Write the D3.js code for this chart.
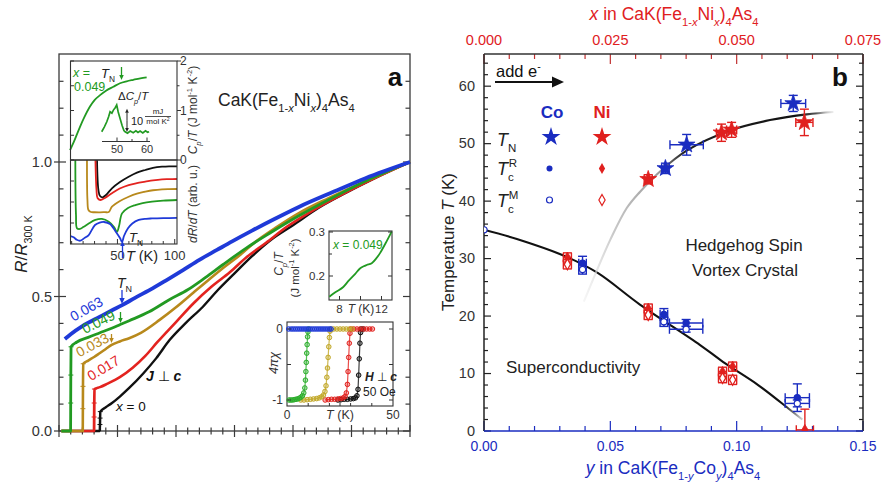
<!DOCTYPE html>
<html>
<head>
<meta charset="utf-8">
<script src="https://cdn.jsdelivr.net/npm/d3@7"></script>
<style>
  body { margin: 0; background: #fff; }
  svg { display: block; }
  text { font-family: "Liberation Sans", Arial, Helvetica, sans-serif; }
</style>
</head>
<body>
<svg id="fig" width="884" height="484"></svg>
<script>
// ---------------- Panel a: R/R300K vs T for CaK(Fe1-xNix)4As4 ----------------
const compLabels = ["0", "0.017", "0.033", "0.049", "0.063"];
const rX0 = [[2,0],[34.8,0],[35.0,0.024],[35.1,0.048],[35.3,0.072],[40,0.088],[45,0.103],[52,0.128],[60,0.16],[72,0.214],[83,0.27],[94.5,0.338],[108,0.40],[123,0.462],[136,0.525],[150,0.586],[165,0.65],[181,0.71],[200,0.765],[222,0.83],[245,0.885],[270,0.94],[300,1.0]];
const rX017 = [[2,0],[29.9,0],[30.0,0.052],[30.1,0.104],[30.3,0.156],[35,0.163],[41,0.175],[52,0.20],[63,0.235],[74,0.28],[84,0.33],[100,0.405],[115,0.475],[130,0.535],[146,0.59],[160,0.645],[177,0.70],[195,0.76],[215,0.815],[240,0.875],[265,0.93],[300,1.0]];
const rX033 = [[2,0],[20.3,0],[20.4,0.083],[20.5,0.166],[20.7,0.25],[25,0.262],[30,0.275],[35,0.29],[40,0.305],[45,0.32],[52,0.333],[60,0.345],[70,0.365],[86,0.413],[100,0.46],[115,0.515],[126,0.555],[140,0.605],[155,0.655],[167,0.70],[185,0.755],[205,0.81],[230,0.865],[260,0.925],[300,1.0]];
const rX049 = [[2,0],[9.9,0],[10.0,0.104],[10.1,0.208],[10.3,0.313],[15,0.33],[25,0.348],[35,0.365],[45,0.382],[52,0.395],[60,0.41],[77,0.443],[95,0.49],[110,0.525],[125,0.57],[140,0.618],[160,0.68],[180,0.735],[205,0.80],[235,0.87],[265,0.935],[300,1.0]];
const rX063 = [[5,0.342],[10,0.36],[20,0.39],[35,0.425],[45,0.448],[54,0.468],[65,0.495],[80,0.53],[92,0.561],[106,0.598],[120,0.636],[135,0.673],[148,0.705],[165,0.745],[185,0.79],[205,0.833],[235,0.89],[262,0.94],[300,1.0]];

// inset: specific heat of x = 0.049 (C_p/T, J mol^-1 K^-2)
const cpT = [[8.6,0.20],[12,0.37],[17.3,0.67],[21,0.86],[26,1.08],[30,1.21],[34.8,1.31],[40,1.40],[46.4,1.48],[52.2,1.55],[58,1.59],[63.8,1.62],[70,1.65],[75.5,1.67]];
// inset: Delta C_p/T anomaly (mJ mol^-1 K^-2)
const dCp = [[44.9,0.1],[45.8,2.2],[46.6,4.4],[47.2,6.5],[47.7,8.7],[48.3,8.1],[48.8,9.4],[49.4,10.4],[49.9,11.6],[50.4,8.6],[51,5.9],[51.7,2.8],[52.3,0.6],[52.7,0.1],[53.5,-0.5],[54.4,0.4],[55.4,-0.3],[56.3,0.5],[57,-0.2],[57.7,0.4],[58.6,-0.4],[59.5,0.5],[60.2,-0.1],[60.7,0.1]];
// inset: dR/dT (arb. units)
const dR0 = [[32.1,1.06],[33.4,0.64],[34.8,0.571],[37.1,0.556],[40,0.583],[45.2,0.663],[52.2,0.738],[59.8,0.801],[67,0.85],[74.3,0.881],[81,0.905],[88.9,0.92],[95,0.925],[102,0.923]];
const dR017 = [[30.7,1.06],[31.7,0.643],[32.6,0.548],[35,0.524],[39.1,0.548],[45.2,0.604],[52,0.66],[59.8,0.702],[67,0.725],[74.3,0.742],[81,0.758],[88.9,0.77],[95,0.772],[102,0.774]];
const dR033 = [[23.4,1.06],[23.8,0.524],[24.7,0.405],[26.9,0.381],[30,0.378],[34.8,0.377],[39,0.379],[42.4,0.381],[45.2,0.444],[52.2,0.512],[59.8,0.563],[67,0.6],[74.3,0.623],[81,0.64],[88.9,0.651],[95,0.654],[102,0.655]];
const dR049 = [[13.2,1.06],[13.8,0.345],[14.7,0.187],[17.3,0.179],[20.5,0.205],[24.3,0.238],[30.7,0.286],[36.5,0.298],[42.4,0.265],[47,0.202],[49.6,0.146],[51.4,0.214],[54,0.365],[59.2,0.429],[65.6,0.464],[72,0.487],[80.2,0.504],[90,0.516],[102,0.524]];
const dR063 = [[9,0.095],[11.8,0.08],[14.5,0.05],[17.6,0.039],[21,0.07],[24.9,0.107],[30.4,0.226],[34.5,0.255],[38.3,0.262],[43.5,0.238],[48.7,0.143],[52.2,0.071],[54,0.024],[55.7,0.095],[59.2,0.187],[63,0.245],[68.6,0.286],[75,0.3],[80.2,0.304],[90,0.308],[102,0.31]];
// inset: low-temperature C_p/T of x = 0.049
const cpLow = [[7.03,0.153],[7.6,0.163],[8.36,0.175],[8.9,0.19],[9.5,0.205],[9.95,0.217],[10.3,0.222],[10.59,0.225],[11.07,0.229],[11.5,0.24],[11.86,0.252],[12.4,0.275],[12.97,0.301]];
// inset: 4 pi chi (H perp c, 50 Oe)
const chi063 = [[0.8,0],[2,0],[3,0],[4,0],[5,0],[6,0],[7,0],[8,0],[9,0],[10,0],[11,0],[12,0],[13,0],[14,0],[15,0],[16,0],[17,0],[18,0],[19,0],[20,0],[20.8,0]];
const chi049 = [[1,-1],[1.8,-1],[2.6,-1],[3.4,-0.995],[4.2,-0.99],[5,-0.985],[5.8,-0.975],[6.6,-0.96],[7.3,-0.94],[7.9,-0.9],[8.4,-0.83],[8.7,-0.72],[8.9,-0.6],[9.1,-0.47],[9.3,-0.34],[9.5,-0.22],[9.7,-0.11],[9.9,-0.04],[10.2,0]];
const chi033 = [[6.5,-1],[8,-1],[9.5,-0.995],[11,-0.99],[12.5,-0.985],[14,-0.98],[15.2,-0.97],[16.3,-0.955],[17.2,-0.93],[17.9,-0.88],[18.4,-0.8],[18.8,-0.68],[19.1,-0.55],[19.4,-0.4],[19.7,-0.25],[20,-0.12],[20.3,-0.03],[20.7,0],[22,0],[23.5,0],[25,0],[26.5,0],[28,0],[29.5,0],[30.8,0]];
const chi017 = [[18,-1],[19.5,-0.995],[21,-0.99],[22.5,-0.99],[24,-0.985],[25.3,-0.98],[26.5,-0.97],[27.4,-0.95],[28,-0.9],[28.5,-0.78],[28.8,-0.6],[29.1,-0.4],[29.4,-0.2],[29.7,-0.06],[30.1,0],[31.5,0],[33,0],[34.5,0],[36,0],[37.5,0],[39,0],[40.3,0]];
const chi0 = [[24,-1],[25.5,-0.995],[27,-0.99],[28.5,-0.99],[30,-0.985],[31.3,-0.98],[32.3,-0.97],[33,-0.94],[33.5,-0.85],[33.8,-0.65],[34.1,-0.42],[34.4,-0.2],[34.7,-0.05],[35,0],[36,0]];

// ---------------- Panel b: phase diagram ----------------
const yTicksB = [0, 10, 20, 30, 40, 50, 60];
const coTicks = [0, 0.05, 0.10, 0.15];
const niTicks = [0, 0.025, 0.050, 0.075];
const coTN  = [{c:0.0718,T:45.7,eT:0.9,ec:0.0015},{c:0.0802,T:49.8,eT:1.8,ec:0.0066},{c:0.1224,T:57.0,eT:1.4,ec:0.0049}];
const niTN  = [{c:0.0325,T:43.8,eT:0.8,ec:0.0008},{c:0.0470,T:51.9,eT:1.5,ec:0.001},{c:0.0490,T:52.4,eT:1.3,ec:0.001},{c:0.0634,T:53.7,eT:2.3,ec:0.0017}];
const coTcR = [{c:0.039,T:29.2,eT:1.2,ec:0.0015},{c:0.0712,T:20.3,eT:1.0,ec:0.0015},{c:0.080,T:18.8,eT:0.6,ec:0.0066},{c:0.124,T:5.8,eT:2.4,ec:0.0048}];
const coTcM = [{c:0,T:35.0,eT:0,ec:0},{c:0.039,T:28.1,eT:0.8,ec:0.0015},{c:0.0712,T:19.0,eT:0.8,ec:0.0015},{c:0.080,T:17.7,eT:0.5,ec:0.0066},{c:0.124,T:4.8,eT:0.6,ec:0.0048}];
const niTcR = [{c:0.0165,T:30.2,eT:0.8,ec:0.0008},{c:0.0325,T:21.3,eT:0.8,ec:0.0008},{c:0.0472,T:10.3,eT:0.8,ec:0.0008},{c:0.0492,T:11.2,eT:0.8,ec:0.0008},{c:0.0635,T:0.2,eT:3.6,ec:0.0017}];
const niTcM = [{c:0.0165,T:29.0,eT:0.8,ec:0.0008},{c:0.0325,T:20.2,eT:0.8,ec:0.0008},{c:0.0472,T:9.2,eT:0.8,ec:0.0008},{c:0.0492,T:8.9,eT:0.8,ec:0.0008}];
// guide lines (Co composition scale)
const tcLine = [[0,35.0],[0.013,33.4],[0.0327,30.3],[0.045,27.5],[0.0617,22.0],[0.0854,15.0],[0.0947,12.0],[0.1085,8.0],[0.1211,3.7],[0.126,2.0]];
const tnLine = [[0.0395,22.5],[0.045,28.3],[0.05,33.3],[0.0565,38.8],[0.0617,41.6],[0.070,45.3],[0.0802,48.8],[0.0974,52.3],[0.1132,54.1],[0.1277,55.1],[0.1383,55.5]];

// ---------------- drawing ----------------
const svg = d3.select("#fig");
const COL = { black:"#111111", red:"#e3231f", gold:"#b8891c", green:"#229a22", blue:"#1f3ad8" };
const BLUE_B = "#1a2cc0", RED_B = "#e0201e";

function rich(sel, x, y, parts, size, extra) {
  const t = sel.append("text").attr("x", x).attr("y", y).attr("font-size", size);
  if (extra) Object.entries(extra).forEach(([k, v]) => t.attr(k, v));
  let cur = 0;
  parts.forEach(p => {
    const off = p.sub ? size * 0.32 : p.sup ? -size * 0.42 : 0;
    const ts = t.append("tspan").text(p.t).attr("dy", off - cur);
    cur = off;
    if (p.sub || p.sup) ts.attr("font-size", size * 0.64);
    if (p.i) ts.attr("font-style", "italic");
    if (p.b) ts.attr("font-weight", "bold");
    if (p.dx) ts.attr("dx", p.dx);
  });
  return t;
}
function arrow(g, x1, y1, x2, y2, color, head, width) {
  const dx = x2 - x1, dy = y2 - y1, L = Math.hypot(dx, dy);
  const ux = dx / L, uy = dy / L;
  const bx = x2 - ux * head, by = y2 - uy * head;
  g.append("line").attr("x1", x1).attr("y1", y1).attr("x2", bx).attr("y2", by)
    .attr("stroke", color).attr("stroke-width", width || 1.3);
  const w = head * 0.45;
  g.append("path").attr("d", `M${x2},${y2}L${bx - uy * w},${by + ux * w}L${bx + uy * w},${by - ux * w}Z`).attr("fill", color);
}

// ===== Panel a main axes =====
const pa = svg.append("g");
const xA = d3.scaleLinear().domain([0, 300]).range([59, 410]);
const yA = d3.scaleLinear().domain([0, 1.4]).range([431, 54.4]);

pa.append("rect").attr("x", 59).attr("y", 54).attr("width", 351).attr("height", 377)
  .attr("fill", "none").attr("stroke", "#3a3a3a").attr("stroke-width", 1.3);
d3.range(0, 301, 10).forEach(t => {
  const maj = t % 50 === 0;
  pa.append("line").attr("x1", xA(t)).attr("x2", xA(t)).attr("y1", 431 - (maj ? 6 : 3.5)).attr("y2", 431 + (maj ? 6 : 3.5))
    .attr("stroke", "#3a3a3a").attr("stroke-width", 1.2);
});
d3.range(0, 14).forEach(i => {
  const v = i / 10, maj = i % 5 === 0;
  pa.append("line").attr("x1", maj ? 54 : 59).attr("x2", maj ? 66 : 63.5).attr("y1", yA(v)).attr("y2", yA(v))
    .attr("stroke", "#3a3a3a").attr("stroke-width", 1.2);
  pa.append("line").attr("x1", 410 - (maj ? 7 : 4.5)).attr("x2", 410).attr("y1", yA(v)).attr("y2", yA(v))
    .attr("stroke", "#3a3a3a").attr("stroke-width", 1.2);
});
[0, 0.5, 1.0].forEach(v => {
  pa.append("text").attr("x", 52).attr("y", yA(v) + 5).attr("text-anchor", "end").attr("font-size", 14.5)
    .attr("fill", "#333").text(v.toFixed(1));
});
rich(pa.append("g").attr("transform", "translate(27,244) rotate(-90)"), 0, 0,
  [{t:"R", i:true}, {t:"/"}, {t:"R", i:true}, {t:"300 K", sub:true}], 17, {"text-anchor":"middle", fill:"#222"});

// resistance curves
const lineA = d3.line().x(d => xA(d[0])).y(d => yA(d[1])).curve(d3.curveMonotoneX);
const curves = [
  {d: rX0, c: COL.black, w: 2.4, jump: 35.3},
  {d: rX017, c: COL.red, w: 2.6, jump: 30.3},
  {d: rX033, c: COL.gold, w: 2.6, jump: 20.7},
  {d: rX049, c: COL.green, w: 2.8, jump: 10.3},
  {d: rX063, c: COL.blue, w: 3.8, jump: null}
];
curves.forEach(cv => {
  pa.append("path").datum(cv.d).attr("d", lineA).attr("fill", "none").attr("stroke", cv.c)
    .attr("stroke-width", cv.w).attr("stroke-linejoin", "round");
  if (cv.jump !== null) {
    cv.d.filter(p => p[1] > 0 && p[0] <= cv.jump).forEach(p => {
      pa.append("line").attr("x1", xA(p[0]) - 2.5).attr("x2", xA(p[0]) + 2.5).attr("y1", yA(p[1])).attr("y2", yA(p[1]))
        .attr("stroke", cv.c).attr("stroke-width", 1);
    });
    const jumpTop = cv.d.find(p => p[0] === cv.jump)[1];
    pa.append("line").attr("x1", xA(cv.jump)).attr("x2", xA(cv.jump)).attr("y1", yA(0)).attr("y2", yA(jumpTop))
      .attr("stroke", cv.c).attr("stroke-width", 1.6);
  }
});

// composition labels just above their curves
const compPos = [
  {t: "0.063", x: 87, y: 310, a: -29, c: COL.blue},
  {t: "0.049", x: 99, y: 323, a: -26, c: COL.green},
  {t: "0.033", x: 93, y: 346, a: -28, c: COL.gold},
  {t: "0.017", x: 104, y: 369, a: -31, c: COL.red}
];
compPos.forEach((p, i) => {
  pa.append("text").attr("transform", `translate(${p.x},${p.y}) rotate(${p.a})`).attr("text-anchor", "middle")
    .attr("dominant-baseline", "middle").attr("font-size", 14).attr("fill", p.c).text(compLabels[4 - i]);
});
rich(pa, 116, 411, [{t:"x", i:true}, {t:" = " + compLabels[0]}], 13.5, {fill:"#111"});
rich(pa, 146, 381, [{t:"J", i:true, b:true}, {t:" \u22A5 "}, {t:"c", i:true, b:true}], 14, {fill:"#111"});

// T_N markers on the curves
rich(pa, 117, 288, [{t:"T", i:true}, {t:"N", sub:true}], 14, {fill:"#222"});
arrow(pa, 122, 290, 122, 304, COL.blue, 6, 1.3);
arrow(pa, 120.5, 312, 120.5, 323, COL.green, 5, 1.3);
arrow(pa, 111.5, 334, 111.5, 343, COL.gold, 5, 1.3);

// title and panel letter
rich(pa, 218, 106, [{t:"CaK(Fe"}, {t:"1-", sub:true}, {t:"x", sub:true, i:true}, {t:"Ni"}, {t:"x", sub:true, i:true}, {t:")"}, {t:"4", sub:true}, {t:"As"}, {t:"4", sub:true}], 17.5, {fill:"#222"});
pa.append("text").attr("x", 395).attr("y", 86).attr("text-anchor", "middle").attr("font-size", 26)
  .attr("font-weight", "bold").attr("fill", "#111").text("a");

// ===== Inset: C_p/T and dR/dT (shared T axis) =====
const inA = pa.append("g");
const xI = d3.scaleLinear().domain([9, 102]).range([70.5, 177]);
const yCp = d3.scaleLinear().domain([0, 2]).range([160, 61]);
const yDR = d3.scaleLinear().domain([0, 1]).range([244, 160]);
inA.append("rect").attr("x", 70.5).attr("y", 61).attr("width", 106.5).attr("height", 183).attr("fill", "#fff");
svg.append("defs").append("clipPath").attr("id", "clipDR").append("rect")
  .attr("x", 70.5).attr("y", 160).attr("width", 106.5).attr("height", 84);
const drSets = [[dR0, COL.black], [dR017, COL.red], [dR033, COL.gold], [dR049, COL.green], [dR063, COL.blue]];
const drG = inA.append("g").attr("clip-path", "url(#clipDR)");
drSets.forEach(([d, c]) => {
  drG.append("path").datum(d).attr("d", d3.line().x(p => xI(p[0])).y(p => yDR(p[1])).curve(d3.curveCatmullRom.alpha(0.5)))
    .attr("fill", "none").attr("stroke", c).attr("stroke-width", 1.8);
});
inA.append("path").datum(cpT).attr("d", d3.line().x(p => xI(p[0])).y(p => yCp(p[1])).curve(d3.curveMonotoneX))
  .attr("fill", "none").attr("stroke", COL.green).attr("stroke-width", 1.8);
// frames
inA.append("rect").attr("x", 70.5).attr("y", 61).attr("width", 106.5).attr("height", 99).attr("fill", "none").attr("stroke", "#333").attr("stroke-width", 1.1);
inA.append("rect").attr("x", 70.5).attr("y", 160).attr("width", 106.5).attr("height", 84).attr("fill", "none").attr("stroke", "#333").attr("stroke-width", 1.1);
[0, 0.5, 1, 1.5, 2].forEach(v => {
  const maj = v % 1 === 0;
  inA.append("line").attr("x1", 177).attr("x2", 177 + (maj ? 4 : 2.5)).attr("y1", yCp(v)).attr("y2", yCp(v)).attr("stroke", "#333");
  inA.append("line").attr("x1", 70.5).attr("x2", 74).attr("y1", yCp(v)).attr("y2", yCp(v)).attr("stroke", "#333");
});
[0.25, 0.5, 0.75].forEach(v => {
  inA.append("line").attr("x1", 70.5).attr("x2", 74).attr("y1", yDR(v)).attr("y2", yDR(v)).attr("stroke", "#333");
});
d3.range(10, 101, 10).forEach(t => {
  const maj = t % 50 === 0;
  inA.append("line").attr("x1", xI(t)).attr("x2", xI(t)).attr("y1", 244).attr("y2", 244 - (maj ? 5 : 3)).attr("stroke", "#333");
});
[["2", 2], ["1", 1], ["0", 0]].forEach(([s, v]) => {
  inA.append("text").attr("x", 180).attr("y", yCp(v) + 4).attr("font-size", 12).attr("fill", "#333").text(s);
});
[50, 100].forEach(t => inA.append("text").attr("x", xI(t)).attr("y", 260).attr("text-anchor", "middle").attr("font-size", 13).attr("fill", "#333").text(t));
rich(inA, 142, 261, [{t:"T", i:true}, {t:" (K)"}], 14.5, {"text-anchor":"middle", fill:"#222"});
rich(inA.append("g").attr("transform", "translate(197,110) rotate(-90)"), 0, 0,
  [{t:"C", i:true}, {t:"p", sub:true, i:true}, {t:"/"}, {t:"T", i:true}, {t:" (J mol"}, {t:"-1", sup:true}, {t:" K"}, {t:"-2", sup:true}, {t:")"}], 12, {"text-anchor":"middle", fill:"#333"});
rich(inA.append("g").attr("transform", "translate(197,204) rotate(-90)"), 0, 0,
  [{t:"dR", i:true}, {t:"/"}, {t:"dT", i:true}, {t:" (arb. u.)"}], 12, {"text-anchor":"middle", fill:"#333"});
rich(inA, 73, 77, [{t:"x", i:true}, {t:" ="}], 12.5, {fill: COL.green});
inA.append("text").attr("x", 74).attr("y", 91).attr("font-size", 12.5).attr("fill", COL.green).text(compLabels[3]);
rich(inA, 101, 78, [{t:"T", i:true}, {t:"N", sub:true}], 13, {fill:"#222"});
arrow(inA, 121.5, 67, 121.5, 80, COL.green, 5, 1.3);
// Delta C_p/T sub-inset
const xS = d3.scaleLinear().domain([45, 61]).range([102, 150]);
const yS = d3.scaleLinear().domain([0, 10]).range([132, 108.7]);
inA.append("line").attr("x1", 102).attr("x2", 150).attr("y1", 141.5).attr("y2", 141.5).attr("stroke", "#333");
[50, 60].forEach(t => {
  inA.append("line").attr("x1", xS(t)).attr("x2", xS(t)).attr("y1", 141.5).attr("y2", 137.5).attr("stroke", "#333");
  inA.append("text").attr("x", xS(t)).attr("y", 153).attr("text-anchor", "middle").attr("font-size", 11).attr("fill", "#333").text(t);
});
[55].forEach(t => inA.append("line").attr("x1", xS(t)).attr("x2", xS(t)).attr("y1", 141.5).attr("y2", 139).attr("stroke", "#333"));
inA.append("path").datum(dCp).attr("d", d3.line().x(p => xS(p[0])).y(p => yS(p[1])))
  .attr("fill", "none").attr("stroke", COL.green).attr("stroke-width", 1.7);
rich(inA, 118, 100, [{t:"\u0394"}, {t:"C", i:true}, {t:"p", sub:true, i:true}, {t:"/"}, {t:"T", i:true}], 11.5, {fill:"#222"});
arrow(inA, 127, yS(5), 127, yS(10), "#222", 4, 1);
arrow(inA, 127, yS(5), 127, yS(0), "#222", 4, 1);
inA.append("text").attr("x", 131).attr("y", 125).attr("font-size", 11).attr("fill", "#222").text("10");
inA.append("text").attr("x", 158).attr("y", 114).attr("text-anchor", "middle").attr("font-size", 8).attr("fill", "#222").text("mJ");
inA.append("line").attr("x1", 145).attr("x2", 171).attr("y1", 116.5).attr("y2", 116.5).attr("stroke", "#222").attr("stroke-width", 0.8);
rich(inA, 158, 124, [{t:"mol K"}, {t:"2", sup:true}], 8, {"text-anchor":"middle", fill:"#222"});
// T_N arrow in dR/dT
rich(inA, 129, 242, [{t:"T", i:true}, {t:"N", sub:true}], 13, {fill:"#222"});
arrow(inA, 122.5, 258, 122.5, 241, COL.blue, 5, 1.3);

// ===== Inset: low-T C_p/T =====
const inB = pa.append("g");
const xL = d3.scaleLinear().domain([7, 13]).range([329, 392]);
const yL = d3.scaleLinear().domain([0.2, 0.3]).range([276, 232]);
inB.append("rect").attr("x", 329).attr("y", 231).attr("width", 63).attr("height", 69).attr("fill", "#fff").attr("stroke", "#333").attr("stroke-width", 1.1);
inB.append("path").datum(cpLow).attr("d", d3.line().x(p => xL(p[0])).y(p => yL(p[1])).curve(d3.curveMonotoneX))
  .attr("fill", "none").attr("stroke", COL.green).attr("stroke-width", 1.8);
[0.2, 0.3].forEach(v => {
  inB.append("line").attr("x1", 329).attr("x2", 333).attr("y1", yL(v)).attr("y2", yL(v)).attr("stroke", "#333");
  inB.append("line").attr("x1", 392).attr("x2", 388).attr("y1", yL(v)).attr("y2", yL(v)).attr("stroke", "#333");
  inB.append("text").attr("x", 325).attr("y", yL(v) + 4).attr("text-anchor", "end").attr("font-size", 11.5).attr("fill", "#333").text(v.toFixed(1));
});
inB.append("line").attr("x1", 329).attr("x2", 332).attr("y1", yL(0.25)).attr("y2", yL(0.25)).attr("stroke", "#333");
[8, 10, 12].forEach(t => inB.append("line").attr("x1", xL(t)).attr("x2", xL(t)).attr("y1", 300).attr("y2", 296).attr("stroke", "#333"));
[8, 12].forEach(t => inB.append("text").attr("x", xL(t)).attr("y", 313).attr("text-anchor", "middle").attr("font-size", 11.5).attr("fill", "#333").text(t));
rich(inB, 361, 313, [{t:"T", i:true}, {t:" (K)"}], 12, {"text-anchor":"middle", fill:"#333"});
rich(inB, 333, 249, [{t:"x", i:true}, {t:" = " + compLabels[3]}], 12, {fill: COL.green});
rich(inB.append("g").attr("transform", "translate(283,264) rotate(-90)"), 0, 0,
  [{t:"C", i:true}, {t:"p", sub:true, i:true}, {t:"/"}, {t:"T", i:true}], 12, {"text-anchor":"middle", fill:"#333"});
rich(inB.append("g").attr("transform", "translate(299,268) rotate(-90)"), 0, 0,
  [{t:"(J mol"}, {t:"-1", sup:true}, {t:" K"}, {t:"-2", sup:true}, {t:")"}], 11.5, {"text-anchor":"middle", fill:"#333"});

// ===== Inset: susceptibility =====
const inC = pa.append("g");
const xC = d3.scaleLinear().domain([0, 50]).range([287, 393]);
const yC = d3.scaleLinear().domain([-1, 0]).range([400, 329]);
inC.append("rect").attr("x", 287).attr("y", 322).attr("width", 106).attr("height", 84).attr("fill", "#fff").attr("stroke", "#333").attr("stroke-width", 1.1);
const chiSets = [[chi0, COL.black], [chi017, COL.red], [chi033, "#c2a828"], [chi049, "#2cae2c"], [chi063, COL.blue]];
chiSets.forEach(([d, c]) => {
  const g = inC.append("g");
  g.append("path").datum(d).attr("d", d3.line().x(p => xC(p[0])).y(p => yC(p[1])))
    .attr("fill", "none").attr("stroke", c).attr("stroke-width", 1.2).attr("stroke-opacity", 0.8);
  g.selectAll("circle").data(d).join("circle").attr("cx", p => xC(p[0])).attr("cy", p => yC(p[1])).attr("r", 2.3)
    .attr("fill", c).attr("fill-opacity", 0.35).attr("stroke", c).attr("stroke-width", 1);
});
[0, -0.5, -1].forEach(v => {
  inC.append("line").attr("x1", 287).attr("x2", 291).attr("y1", yC(v)).attr("y2", yC(v)).attr("stroke", "#333");
  inC.append("line").attr("x1", 393).attr("x2", 389).attr("y1", yC(v)).attr("y2", yC(v)).attr("stroke", "#333");
});
[10, 20, 30, 40].forEach(t => inC.append("line").attr("x1", xC(t)).attr("x2", xC(t)).attr("y1", 406).attr("y2", 403).attr("stroke", "#333"));
inC.append("line").attr("x1", xC(25)).attr("x2", xC(25)).attr("y1", 406).attr("y2", 401).attr("stroke", "#333");
[["0", 0], ["-1", -1]].forEach(([s, v]) => inC.append("text").attr("x", 283).attr("y", yC(v) + 4).attr("text-anchor", "end").attr("font-size", 12).attr("fill", "#333").text(s));
[0, 50].forEach(t => inC.append("text").attr("x", xC(t)).attr("y", 419).attr("text-anchor", "middle").attr("font-size", 12).attr("fill", "#333").text(t));
rich(inC, 340, 419, [{t:"T", i:true}, {t:" (K)"}], 12.5, {"text-anchor":"middle", fill:"#333"});
inC.append("text").attr("transform", "translate(278,363) rotate(-90)").attr("text-anchor", "middle")
  .attr("font-size", 12.5).attr("font-style", "italic").attr("fill", "#333").text("4\u03C0\u03C7");
rich(inC, 365, 381, [{t:"H", i:true, b:true}, {t:" \u22A5 "}, {t:"c", i:true, b:true}], 12, {fill:"#222"});
inC.append("text").attr("x", 363).attr("y", 396).attr("font-size", 12).attr("fill", "#222").text("50 Oe");

// ===== Panel b =====
const pb = svg.append("g");
const xCo = d3.scaleLinear().domain([0, 0.15]).range([484, 863]);
const xNi = d3.scaleLinear().domain([0, 0.075]).range([484, 863]);
const yB = d3.scaleLinear().domain([0, 65.6]).range([431, 54]);

// ticks
d3.range(0, 66, 2).forEach(v => {
  const maj = v % 10 === 0;
  pb.append("line").attr("x1", 484).attr("x2", 484 + (maj ? 7 : 4)).attr("y1", yB(v)).attr("y2", yB(v)).attr("stroke", "#222").attr("stroke-width", 1.2);
  pb.append("line").attr("x1", 863).attr("x2", 863 - (maj ? 7 : 4)).attr("y1", yB(v)).attr("y2", yB(v)).attr("stroke", "#222").attr("stroke-width", 1.2);
});
d3.range(0, 0.1501, 0.01).forEach(v => {
  const maj = Math.abs(v / 0.05 - Math.round(v / 0.05)) < 1e-6;
  pb.append("line").attr("x1", xCo(v)).attr("x2", xCo(v)).attr("y1", 431).attr("y2", 431 - (maj ? 10 : 5)).attr("stroke", BLUE_B).attr("stroke-width", 1.2);
});
d3.range(0, 0.0751, 0.005).forEach(v => {
  const maj = Math.abs(v / 0.025 - Math.round(v / 0.025)) < 1e-6;
  pb.append("line").attr("x1", xNi(v)).attr("x2", xNi(v)).attr("y1", 54).attr("y2", 54 + (maj ? 10 : 5)).attr("stroke", "#c03030").attr("stroke-width", 1.2);
});
// spines
pb.append("line").attr("x1", 484).attr("x2", 484).attr("y1", 54).attr("y2", 431).attr("stroke", "#222").attr("stroke-width", 1.5);
pb.append("line").attr("x1", 863).attr("x2", 863).attr("y1", 54).attr("y2", 431).attr("stroke", "#222").attr("stroke-width", 1.5);
pb.append("line").attr("x1", 484).attr("x2", 863).attr("y1", 54).attr("y2", 54).attr("stroke", "#333").attr("stroke-width", 1.5);
pb.append("line").attr("x1", 484).attr("x2", 863).attr("y1", 431).attr("y2", 431).attr("stroke", BLUE_B).attr("stroke-width", 1.6);

yTicksB.forEach(v => pb.append("text").attr("x", 475).attr("y", yB(v) + 4.5).attr("text-anchor", "end").attr("font-size", 14.5).attr("fill", "#333").text(v));
coTicks.forEach(v => pb.append("text").attr("x", xCo(v)).attr("y", 451).attr("text-anchor", "middle").attr("font-size", 14).attr("fill", BLUE_B).text(v.toFixed(2)));
niTicks.forEach(v => pb.append("text").attr("x", xNi(v)).attr("y", 45).attr("text-anchor", "middle").attr("font-size", 14.5).attr("fill", RED_B).text(v.toFixed(3)));
rich(pb, 673, 474, [{t:"y", i:true}, {t:" in CaK(Fe"}, {t:"1-", sub:true}, {t:"y", sub:true, i:true}, {t:"Co"}, {t:"y", sub:true, i:true}, {t:")"}, {t:"4", sub:true}, {t:"As"}, {t:"4", sub:true}], 17.5, {"text-anchor":"middle", fill: BLUE_B});
rich(pb, 674, 20, [{t:"x", i:true}, {t:" in CaK(Fe"}, {t:"1-", sub:true}, {t:"x", sub:true, i:true}, {t:"Ni"}, {t:"x", sub:true, i:true}, {t:")"}, {t:"4", sub:true}, {t:"As"}, {t:"4", sub:true}], 17.5, {"text-anchor":"middle", fill: RED_B});
rich(pb.append("g").attr("transform", "translate(454,242) rotate(-90)"), 0, 0,
  [{t:"Temperature "}, {t:"T", i:true}, {t:" (K)"}], 17, {"text-anchor":"middle", fill:"#222"});

// guide lines with faded ends
const defs = svg.select("defs");
const gTc = defs.append("linearGradient").attr("id", "gTc").attr("gradientUnits", "userSpaceOnUse")
  .attr("x1", xCo(0)).attr("x2", xCo(0.127)).attr("y1", 0).attr("y2", 0);
[[0, "#111", 1], [0.93, "#111", 1], [0.97, "#888", 1], [1, "#ccc", 0.6]].forEach(([o, c, a]) =>
  gTc.append("stop").attr("offset", o).attr("stop-color", c).attr("stop-opacity", a));
const gTn = defs.append("linearGradient").attr("id", "gTn").attr("gradientUnits", "userSpaceOnUse")
  .attr("x1", xCo(0.0395)).attr("x2", xCo(0.1383)).attr("y1", 0).attr("y2", 0);
[[0, "#e8e8e8", 0.4], [0.12, "#c8c8c8", 1], [0.3, "#9a9a9a", 1], [0.4, "#222", 1], [0.85, "#111", 1], [0.93, "#555", 1], [1, "#ddd", 0.5]].forEach(([o, c, a]) =>
  gTn.append("stop").attr("offset", o).attr("stop-color", c).attr("stop-opacity", a));
const lineB = d3.line().x(d => xCo(d[0])).y(d => yB(d[1])).curve(d3.curveCatmullRom.alpha(0.5));
pb.append("path").datum(tcLine).attr("d", lineB).attr("fill", "none").attr("stroke", "url(#gTc)").attr("stroke-width", 2.1);
pb.append("path").datum(tnLine).attr("d", lineB).attr("fill", "none").attr("stroke", "url(#gTn)").attr("stroke-width", 2.1);

// data points with error bars
defs.append("clipPath").attr("id", "clipB").append("rect").attr("x", 484).attr("y", 54).attr("width", 379).attr("height", 377);
const ptsG = pb.append("g").attr("clip-path", "url(#clipB)");
function errBars(data, sx, color) {
  data.forEach(p => {
    const cx = sx(p.c), cy = yB(p.T);
    if (p.eT > 0) {
      const y1 = yB(p.T + p.eT), y2 = yB(p.T - p.eT);
      ptsG.append("line").attr("x1", cx).attr("x2", cx).attr("y1", y1).attr("y2", y2).attr("stroke", color).attr("stroke-width", 1.4);
      [y1, y2].forEach(y => ptsG.append("line").attr("x1", cx - 4.5).attr("x2", cx + 4.5).attr("y1", y).attr("y2", y).attr("stroke", color).attr("stroke-width", 1.4));
    }
    if (p.ec > 0) {
      const x1 = sx(p.c - p.ec), x2 = sx(p.c + p.ec);
      ptsG.append("line").attr("x1", x1).attr("x2", x2).attr("y1", cy).attr("y2", cy).attr("stroke", color).attr("stroke-width", 1.4);
      [x1, x2].forEach(x => ptsG.append("line").attr("x1", x).attr("x2", x).attr("y1", cy - 4.5).attr("y2", cy + 4.5).attr("stroke", color).attr("stroke-width", 1.4));
    }
  });
}
const symStar = d3.symbol().type(d3.symbolStar).size(88);
const symStarL = d3.symbol().type(d3.symbolStar).size(110);
const symDia = d3.symbol().type(d3.symbolDiamond).size(34);
function marks(data, sx, path, color, open) {
  data.forEach(p => {
    ptsG.append("path").attr("d", path).attr("transform", `translate(${sx(p.c)},${yB(p.T)})`)
      .attr("fill", open ? "#fff" : color).attr("stroke", color).attr("stroke-width", open ? 1.3 : 0.8);
  });
}
function circles(data, sx, color, open) {
  data.forEach(p => {
    ptsG.append("circle").attr("cx", sx(p.c)).attr("cy", yB(p.T)).attr("r", 3.1)
      .attr("fill", open ? "#fff" : color).attr("stroke", color).attr("stroke-width", 1.2);
  });
}
errBars(niTcM, xNi, RED_B); errBars(niTcR, xNi, RED_B);
errBars(coTcM, xCo, BLUE_B); errBars(coTcR, xCo, BLUE_B);
marks(niTcR, xNi, symDia(), RED_B, false);
marks(niTcM, xNi, symDia(), RED_B, true);
circles(coTcR, xCo, BLUE_B, false);
circles(coTcM, xCo, BLUE_B, true);
errBars(niTN, xNi, RED_B); errBars(coTN, xCo, BLUE_B);
marks(niTN, xNi, symStar(), RED_B, false);
marks(coTN, xCo, symStar(), BLUE_B, false);

// legend
pb.append("text").attr("x", 552).attr("y", 118).attr("text-anchor", "middle").attr("font-size", 17).attr("font-weight", "bold").attr("fill", BLUE_B).text("Co");
pb.append("text").attr("x", 602).attr("y", 118).attr("text-anchor", "middle").attr("font-size", 17).attr("font-weight", "bold").attr("fill", RED_B).text("Ni");
rich(pb, 497, 146, [{t:"T", i:true}, {t:"N", sub:true}], 18, {fill:"#222"});
rich(pb, 497, 175, [{t:"T", i:true}, {t:"c", sub:true}, {t:"R", sup:true, dx:-5}], 18, {fill:"#222"});
rich(pb, 497, 207, [{t:"T", i:true}, {t:"c", sub:true}, {t:"M", sup:true, dx:-5}], 18, {fill:"#222"});
pb.append("path").attr("d", symStarL()).attr("transform", "translate(551,137)").attr("fill", BLUE_B);
pb.append("path").attr("d", symStarL()).attr("transform", "translate(602,137)").attr("fill", RED_B);
pb.append("circle").attr("cx", 549.5).attr("cy", 168.5).attr("r", 3).attr("fill", BLUE_B);
pb.append("path").attr("d", symDia()).attr("transform", "translate(602,168.5)").attr("fill", RED_B);
pb.append("circle").attr("cx", 549.5).attr("cy", 200).attr("r", 3).attr("fill", "#fff").attr("stroke", BLUE_B).attr("stroke-width", 1.2);
pb.append("path").attr("d", symDia()).attr("transform", "translate(602,200)").attr("fill", "#fff").attr("stroke", RED_B).attr("stroke-width", 1.2);

// annotations
rich(pb, 496, 77, [{t:"add e"}, {t:"-", sup:true}], 16.5, {fill:"#111"});
arrow(pb, 495, 82, 564, 82, "#111", 12, 2.2);
pb.append("text").attr("x", 840).attr("y", 86).attr("text-anchor", "middle").attr("font-size", 26).attr("font-weight", "bold").attr("fill", "#111").text("b");
pb.append("text").attr("x", 744).attr("y", 251).attr("text-anchor", "middle").attr("font-size", 17).attr("fill", "#222").text("Hedgehog Spin");
pb.append("text").attr("x", 745).attr("y", 276).attr("text-anchor", "middle").attr("font-size", 17).attr("fill", "#222").text("Vortex Crystal");
pb.append("text").attr("x", 506).attr("y", 373).attr("font-size", 17).attr("fill", "#222").text("Superconductivity");
</script>
</body>
</html>
